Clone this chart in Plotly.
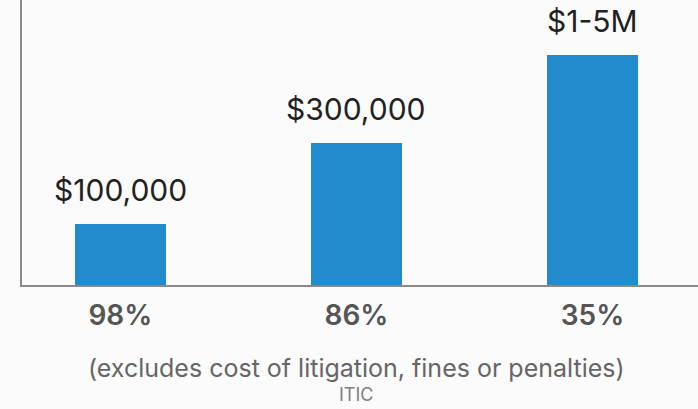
import numpy as np
import plotly.graph_objects as go

categories = ["98%", "86%", "35%"]
values = [100000, 300000, 1000000]
value_labels = ["$100,000", "$300,000", "$1-5M"]
note_text = "(excludes cost of litigation, fines or penalties)"
source_text = "ITIC"

FONT = "Inter"
x_idx = list(range(len(categories)))

fig = go.Figure(go.Bar(
    x=x_idx, y=values, width=0.386,
    marker=dict(color="#228bcd", line=dict(width=0)),
    hoverinfo="skip",
))

for i, (v, lab) in enumerate(zip(values, value_labels)):
    fig.add_annotation(x=i, y=np.log10(v), xref="x", yref="y", text=lab,
                       showarrow=False, yanchor="bottom", yshift=14,
                       font=dict(family=FONT, size=30, color="#222222"))

fig.add_annotation(x=1, y=-0.291, xref="x", yref="paper", text=note_text,
                   showarrow=False, yanchor="middle",
                   font=dict(family=FONT, size=25, color="#666666"))
fig.add_annotation(x=1, y=-0.385, xref="x", yref="paper", text=source_text,
                   showarrow=False, yanchor="middle",
                   font=dict(family=FONT, size=18, color="#808080"))

fig.update_layout(
    width=698, height=409,
    margin=dict(l=22, r=0, t=0, b=124),
    paper_bgcolor="#fbfbfb", plot_bgcolor="#fbfbfb",
    showlegend=False, bargap=0,
)
fig.update_xaxes(
    range=[-0.417, 2.447], tickmode="array", tickvals=x_idx, ticktext=categories,
    showline=True, linecolor="#8a8a8a", linewidth=2, showgrid=False, zeroline=False,
    ticks="outside", ticklen=4, tickcolor="rgba(0,0,0,0)",
    tickfont=dict(family=FONT, size=28, color="#555555", weight=600),
)
fig.update_yaxes(
    type="log", range=[4.640, 6.322],
    showline=True, linecolor="#8a8a8a", linewidth=2, showgrid=False, zeroline=False,
    showticklabels=False, ticks="",
)

fig.write_html("out.html", config={"displayModeBar": False},
               post_script="document.body.style.margin='0';")
